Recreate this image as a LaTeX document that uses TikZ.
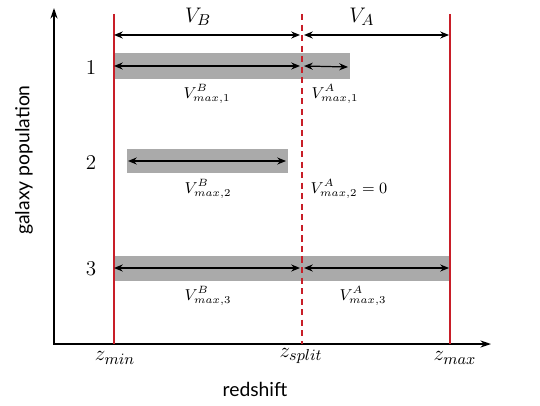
\documentclass[tikz,border=0pt]{standalone}
\usepackage{fontspec}
\newfontfamily\labfont{Lato}
\usetikzlibrary{arrows.meta}
\definecolor{barg}{RGB}{170,170,170}
\definecolor{zred}{RGB}{200,30,40}
\begin{document}
\begin{tikzpicture}[x=0.02cm,y=-0.02cm,
  bar/.style={fill=barg,draw=none},
  zline/.style={zred,line width=0.85pt},
  darr/.style={{Stealth[length=5pt,width=4pt]}-{Stealth[length=5pt,width=4pt]},line width=0.7pt},
  axis/.style={-{Stealth[length=6pt,width=4pt]},line width=0.9pt},
  big/.style={font=\fontsize{13}{15}\selectfont},
  num/.style={font=\fontsize{12}{14}\selectfont},
  lab/.style={font=\fontsize{9}{11}\selectfont},
  zlab/.style={font=\fontsize{12.5}{14}\selectfont},
  axlab/.style={font=\labfont\fontsize{11}{13}\selectfont}]
\useasboundingbox (0,0) rectangle (540,405);
% coordinates
\coordinate (o) at (54,344);
\coordinate (ytop) at (54,8);
\coordinate (xend) at (491,344);
\coordinate (zmint) at (114,14); \coordinate (zminb) at (114,344);
\coordinate (zspt) at (302,14); \coordinate (zspb) at (302,344);
\coordinate (zmaxt) at (450,14); \coordinate (zmaxb) at (450,344);
% bars
\fill[bar] (115,53) rectangle (349.5,79);
\fill[bar] (127,149) rectangle (288,173);
\fill[bar] (115,256) rectangle (450,281);
% axes
\draw[axis] (o) -- (ytop);
\draw[axis] ([xshift=-0.45pt]o) -- (xend);
% red lines
\draw[zline] (zmint) -- (zminb);
\draw[zline] (zmaxt) -- (zmaxb);
\draw[zline,line width=1pt,dash pattern=on 3.5pt off 2.5pt] (zspt) -- (zspb);
% top arrows
\coordinate (a1) at (114,35); \coordinate (a2) at (300,35);
\coordinate (a3) at (304,35); \coordinate (a4) at (449,35);
\draw[darr] (a1) -- (a2);
\draw[darr] (a3) -- (a4);
\node[big] (VB) at (198,17) {$V_B$};
\node[big] (VA) at (362,17) {$V_A$};
% row 1
\coordinate (r1a) at (114,66); \coordinate (r1b) at (300,66);
\coordinate (r1c) at (304,66); \coordinate (r1d) at (348,67);
\draw[darr] (r1a) -- (r1b);
\draw[darr] (r1c) -- (r1d);
\node[num] (n1) at (91,67) {1};
\node[lab] (vb1) at (207,94) {$V^B_{max,1}$};
\node[lab] (va1) at (335,94) {$V^A_{max,1}$};
% row 2
\coordinate (r2a) at (128,161); \coordinate (r2b) at (286,161);
\draw[darr] (r2a) -- (r2b);
\node[num] (n2) at (91,162) {2};
\node[lab] (vb2) at (208,189) {$V^B_{max,2}$};
\node[lab] (va2) at (349,189) {$V^A_{max,2}=0$};
% row 3
\coordinate (r3a) at (114,268); \coordinate (r3b) at (300,268);
\coordinate (r3c) at (304,268); \coordinate (r3d) at (449,268);
\draw[darr] (r3a) -- (r3b);
\draw[darr] (r3c) -- (r3d);
\node[num] (n3) at (91,269) {3};
\node[lab] (vb3) at (208,296) {$V^B_{max,3}$};
\node[lab] (va3) at (363,296) {$V^A_{max,3}$};
% axis labels
\node[zlab] (zmin) at (115,358) {$z_{min}$};
\node[zlab] (zsplit) at (301,356) {$z_{split}$};
\node[zlab] (zmax) at (455,358) {$z_{max}$};
\node[axlab] (rs) at (255,389) {redshift};
\node[axlab,rotate=90] (gp) at (24,160) {galaxy population};
\end{tikzpicture}
\end{document}
